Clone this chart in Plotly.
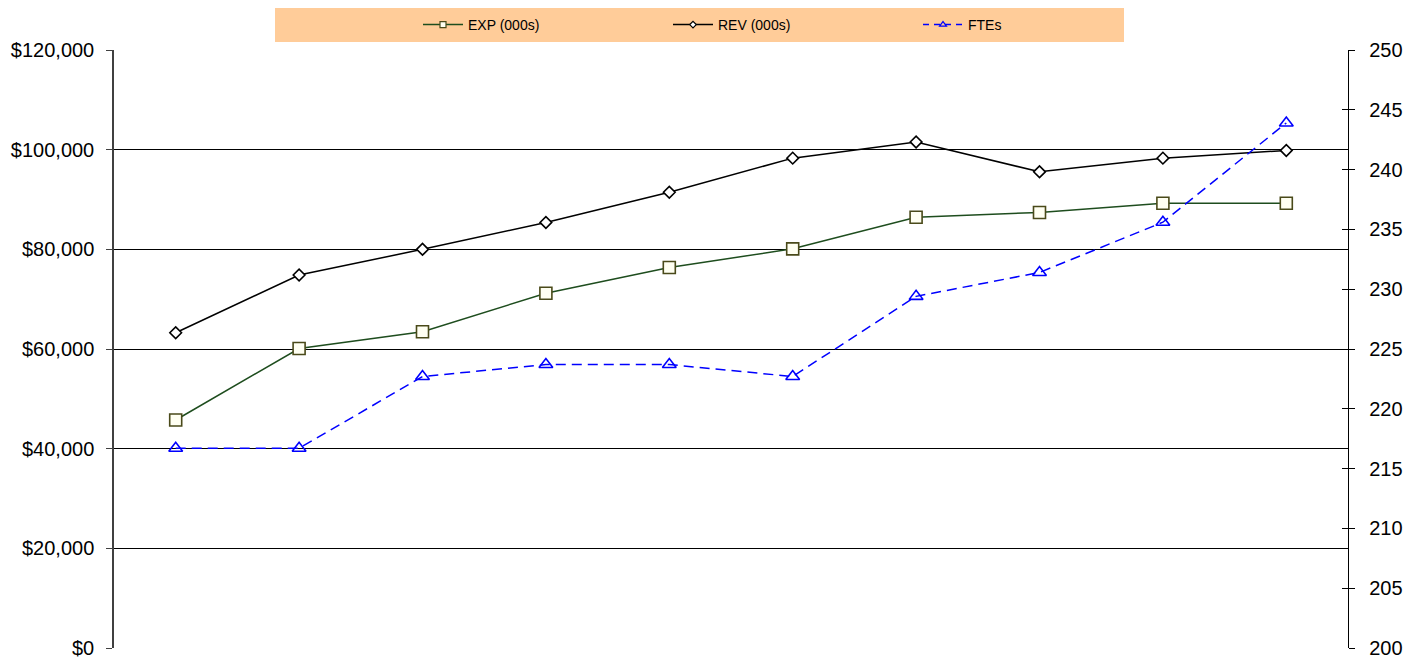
import plotly.graph_objects as go

# ---- data ----
periods = ["P1", "P2", "P3", "P4", "P5", "P6", "P7", "P8", "P9", "P10"]
exp_000s = [45750, 60100, 63450, 71200, 76350, 80100, 86450, 87400, 89250, 89250]
rev_000s = [63250, 74850, 80000, 85400, 91450, 98300, 101550, 95550, 98300, 99850]
ftes = [216.7, 216.7, 222.7, 223.7, 223.7, 222.7, 229.4, 231.4, 235.6, 243.9]

left_ticks = [0, 20000, 40000, 60000, 80000, 100000, 120000]
left_labels = ["$0", "$20,000", "$40,000", "$60,000", "$80,000", "$100,000", "$120,000"]
right_ticks = [200, 205, 210, 215, 220, 225, 230, 235, 240, 245, 250]

series_names = ["EXP (000s)", "REV (000s)", "FTEs"]

FONT = "Liberation Sans, Arial, sans-serif"

EXP_LINE = dict(color="#1E4D1E", width=1.5)
REV_LINE = dict(color="#000000", width=1.5)
FTE_LINE = dict(color="#0000FF", width=1.5, dash="10px,6px")

fig = go.Figure()

fig.add_trace(go.Scatter(
    x=periods, y=exp_000s, name=series_names[0], mode="lines+markers",
    line=EXP_LINE,
    marker=dict(symbol="square", size=12, color="#FFFFF2",
                line=dict(color="#4A4A1A", width=1.6)),
    yaxis="y", showlegend=False,
))
fig.add_trace(go.Scatter(
    x=periods, y=rev_000s, name=series_names[1], mode="lines+markers",
    line=REV_LINE,
    marker=dict(symbol="diamond", size=9, color="#FFFFFF",
                line=dict(color="#000000", width=1.6)),
    yaxis="y", showlegend=False,
))
fig.add_trace(go.Scatter(
    x=periods, y=ftes, name=series_names[2], mode="lines+markers",
    line=FTE_LINE,
    marker=dict(symbol="triangle-up-open", size=12, color="#0000FF",
                line=dict(color="#0000FF", width=1.6)),
    yaxis="y2", showlegend=False,
))

# legend proxies (small markers like the reference legend)
fig.add_trace(go.Scatter(
    x=[None], y=[None], name=series_names[0], mode="lines+markers",
    line=EXP_LINE,
    marker=dict(symbol="square", size=6, color="#FFFFF2",
                line=dict(color="#4A4A1A", width=1.2)),
))
fig.add_trace(go.Scatter(
    x=[None], y=[None], name=series_names[1], mode="lines+markers",
    line=REV_LINE,
    marker=dict(symbol="diamond", size=5, color="#FFFFFF",
                line=dict(color="#000000", width=1.2)),
))
fig.add_trace(go.Scatter(
    x=[None], y=[None], name=series_names[2], mode="lines+markers",
    line=dict(color="#0000FF", width=1.5, dash="6px,5px"),
    marker=dict(symbol="triangle-up-open", size=6, color="#0000FF",
                line=dict(color="#0000FF", width=1.2)),
    yaxis="y2",
))

OFF = 8  # page body offset
W, H = 1422, 661
L, T = 114 - OFF, 50 - OFF
R = W - (1348 - OFF)
B = H - (648 - OFF)
pw = W - L - R
ph = H - T - B

def px_x(p):
    return (p - OFF - L) / pw

def px_y(p):
    return (H - B - (p - OFF)) / ph

fig.update_layout(
    width=W, height=H,
    margin=dict(l=L, r=R, t=T, b=B, pad=0, autoexpand=False),
    paper_bgcolor="white", plot_bgcolor="white",
    font=dict(family=FONT, size=20, color="#000000"),
    showlegend=True,
    legend=dict(
        orientation="h", x=px_x(418), xanchor="left",
        y=px_y(25), yanchor="middle",
        bgcolor="rgba(0,0,0,0)", borderwidth=0,
        font=dict(family=FONT, size=14, color="#000000"),
        entrywidth=195, entrywidthmode="pixels",
        itemwidth=40,
    ),
    xaxis=dict(
        type="category", range=[-0.5, len(periods) - 0.5],
        showticklabels=False, ticks="", showgrid=False, zeroline=False,
        showline=False, automargin=False,
    ),
    yaxis=dict(
        range=[0, 120000], tickvals=left_ticks, ticktext=left_labels,
        showgrid=True, gridcolor="#000000", gridwidth=1.3,
        zeroline=False, showline=True, linecolor="#404040", linewidth=1.5,
        ticks="outside", ticklen=6, tickcolor="#404040", tickwidth=1.3,
        ticklabelstandoff=8, automargin=False,
        tickfont=dict(family=FONT, size=20, color="#000000"),
    ),
    yaxis2=dict(
        range=[200, 250], tickvals=right_ticks, overlaying="y", side="right",
        anchor="x", showgrid=False, zeroline=False,
        showline=True, linecolor="#000000", linewidth=1.3,
        ticks="outside", ticklen=6, tickcolor="#000000", tickwidth=1.3,
        ticklabelstandoff=10, automargin=False,
        tickfont=dict(family=FONT, size=20, color="#000000"),
    ),
    yaxis3=dict(
        range=[200, 250], tickvals=right_ticks, overlaying="y", side="right",
        anchor="x", showgrid=False, zeroline=False, showline=False,
        ticks="inside", ticklen=6, tickcolor="#000000", tickwidth=1.3,
        showticklabels=False, automargin=False,
    ),
    shapes=[dict(
        type="rect", xref="paper", yref="paper",
        x0=px_x(275), x1=px_x(1124), y0=px_y(42), y1=px_y(8),
        fillcolor="#FFCC99", line=dict(width=0), layer="below",
    )],
)

fig.add_trace(go.Scatter(x=periods, y=ftes, yaxis="y3", mode="markers",
                         marker=dict(opacity=0), showlegend=False,
                         hoverinfo="skip"))

fig.write_html("out.html")
